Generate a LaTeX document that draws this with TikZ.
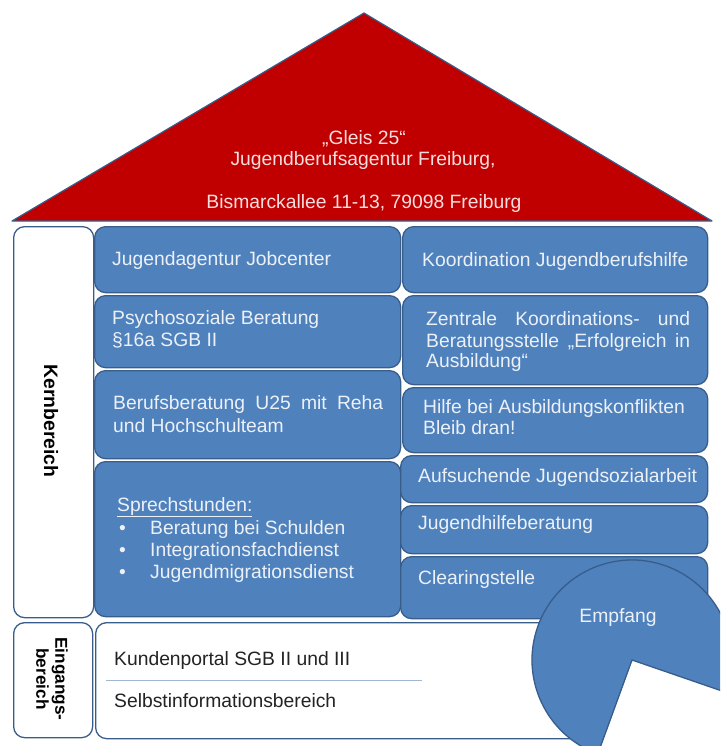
\documentclass[tikz,border=0pt]{standalone}
\usepackage{fontspec}
\setmainfont{Liberation Sans}
\definecolor{boxblue}{RGB}{79,129,189}
\definecolor{boxline}{RGB}{56,93,138}
\definecolor{roofred}{RGB}{192,0,0}
\definecolor{rooftext}{RGB}{248,222,222}
\definecolor{boxtext}{RGB}{236,241,248}
\definecolor{darktext}{RGB}{35,35,35}
\definecolor{sepcol}{RGB}{160,182,210}
\begin{document}
\begin{tikzpicture}[x=1pt,y=-1pt,
  bluebox/.style={draw=boxline, fill=boxblue, line width=1.3pt, rounded corners=11pt, anchor=north west, inner sep=0pt},
  whitebox/.style={draw=boxline, fill=white, line width=1.3pt, rounded corners=11pt, anchor=north west, inner sep=0pt},
  wtxt/.style={text=boxtext, font=\fontsize{19.3}{23}\selectfont, anchor=base west, inner sep=0pt},
  dtxt/.style={text=darktext, font=\fontsize{19.3}{23}\selectfont, anchor=base west, inner sep=0pt},
  rtxt/.style={text=rooftext, font=\fontsize{19.3}{23}\selectfont, anchor=base, inner sep=0pt},
  vtxt/.style={text=black, font=\fontsize{17.2}{19}\selectfont\bfseries, rotate=-90, align=center, inner sep=0pt}]
\useasboundingbox (0,0) rectangle (720,746);
\clip (0,0) rectangle (720,746);
% roof
\coordinate (apex) at (364,13);
\coordinate (rl) at (12,221);
\coordinate (rr) at (712,221);
\draw[boxline, fill=roofred, line width=1.2pt, line join=round] (rl) -- (apex) -- (rr) -- cycle;
\node[rtxt] (r1) at (364,145) {„Gleis 25“};
\node[rtxt] (r2) at (363,166) {Jugendberufsagentur Freiburg,};
\node[rtxt] (r3) at (364,208) {Bismarckallee 11-13, 79098 Freiburg};
% side boxes
\node[whitebox, minimum width=80pt, minimum height=391pt] (kern) at (13,226) {};
\node[vtxt, font=\fontsize{19.4}{21}\selectfont\bfseries] (kernt) at (51,421) {Kernbereich};
\node[whitebox, minimum width=79pt, minimum height=115pt] (ein) at (13,622) {};
\node[vtxt] (eint) at (52,679) {Eingangs-\\bereich};
% left column
\node[bluebox, minimum width=306pt, minimum height=66pt] (l1) at (94,226) {};
\node[bluebox, minimum width=306pt, minimum height=72pt] (l2) at (94,295) {};
\node[bluebox, minimum width=306pt, minimum height=88pt] (l3) at (94,370) {};
\node[bluebox, minimum width=306pt, minimum height=155pt] (l4) at (94,461) {};
% right column
\node[bluebox, minimum width=305pt, minimum height=66pt] (r1b) at (402,226) {};
\node[bluebox, minimum width=305pt, minimum height=89pt] (r2b) at (402,295) {};
\node[bluebox, minimum width=305pt, minimum height=65pt] (r3b) at (402,387) {};
\node[bluebox, minimum width=307pt, minimum height=47pt] (r4b) at (400,455) {};
\node[bluebox, minimum width=307pt, minimum height=48pt] (r5b) at (400,505) {};
\node[bluebox, minimum width=307pt, minimum height=62pt] (r6b) at (400,556) {};
% bottom white box
\node[whitebox, minimum width=505pt, minimum height=116pt] (bot) at (95,622) {};
% texts left
\node[wtxt] (t1) at (112,265) {Jugendagentur Jobcenter};
\node[wtxt] (t2a) at (112,324) {Psychosoziale Beratung};
\node[wtxt] (t2b) at (112,346) {§16a SGB II};
\node[wtxt] (t3a) at (113,409) {\makebox[270pt][s]{Berufsberatung U25 mit Reha}};
\node[wtxt] (t3b) at (113,432) {und Hochschulteam};
\node[wtxt] (t4) at (117,511) {\underline{Sprechstunden:}};
\node[wtxt] (b1) at (119,534) {\textbullet};
\node[wtxt] (b2) at (119,556) {\textbullet};
\node[wtxt] (b3) at (119,578) {\textbullet};
\node[wtxt] (t4a) at (150,534) {Beratung bei Schulden};
\node[wtxt] (t4b) at (150,556) {Integrationsfachdienst};
\node[wtxt] (t4c) at (150,578) {Jugendmigrationsdienst};
% texts right
\node[wtxt] (u1) at (422,266) {Koordination Jugendberufshilfe};
\node[wtxt] (u2a) at (426,325) {\makebox[264pt][s]{Zentrale Koordinations- und}};
\node[wtxt] (u2b) at (426,347) {\makebox[264pt][s]{Beratungsstelle „Erfolgreich in}};
\node[wtxt] (u2c) at (426,367) {Ausbildung“};
\node[wtxt] (u3a) at (423,413) {Hilfe bei Ausbildungskonflikten};
\node[wtxt] (u3b) at (423,434) {Bleib dran!};
\node[wtxt] (u4) at (418,482) {Aufsuchende Jugendsozialarbeit};
\node[wtxt] (u5) at (418,529) {Jugendhilfeberatung};
\node[wtxt] (u6) at (418,584) {Clearingstelle};
% bottom texts
\node[dtxt] (k1) at (114,665) {Kundenportal SGB II und III};
\coordinate (s1) at (106,680);
\coordinate (s2) at (422,680);
\draw[sepcol, line width=1pt] (s1) -- (s2);
\node[dtxt] (k2) at (114,707) {Selbstinformationsbereich};
% Empfang pac-man
\coordinate (ec) at (632,660);
\draw[boxline, fill=boxblue, line width=1.3pt, line join=round] (ec) -- ++(110:100) arc[start angle=110, end angle=379, radius=100] -- cycle;
\node[text=boxtext, font=\fontsize{19.3}{23}\selectfont, inner sep=0pt] (emp) at (618,618) {Empfang};
\end{tikzpicture}
\end{document}
